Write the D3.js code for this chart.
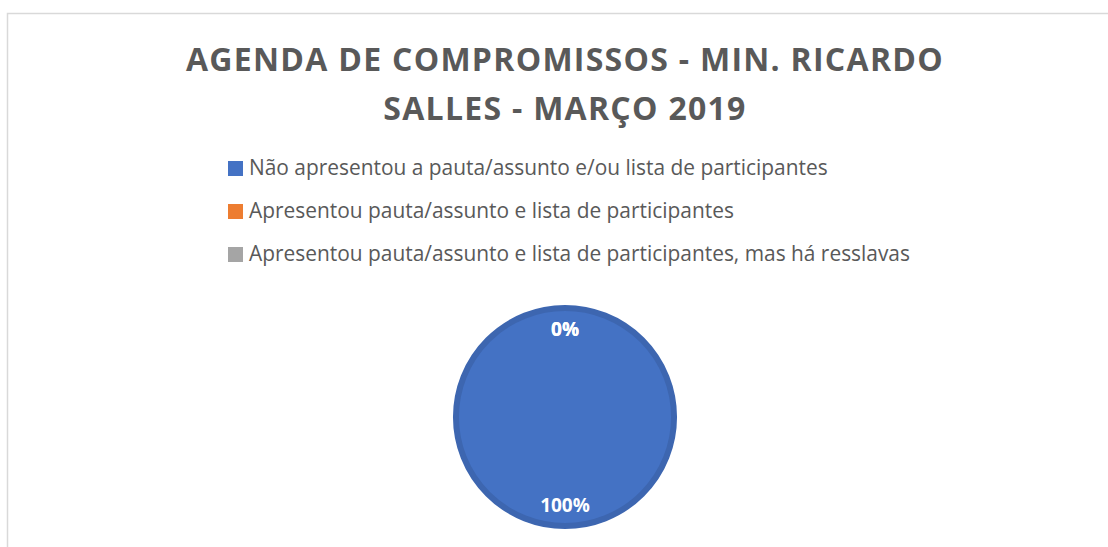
<!DOCTYPE html>
<html>
<head>
<meta charset="utf-8">
<script src="https://cdn.jsdelivr.net/npm/d3@7"></script>
<style>
html,body{margin:0;padding:0;background:#fff;}
svg{display:block;}
</style>
</head>
<body>
<svg id="chart" width="1108" height="547"></svg>
<script>
const titleLines = ["AGENDA DE COMPROMISSOS - MIN. RICARDO", "SALLES - MARÇO 2019"];
const categories = [
  "Não apresentou a pauta/assunto e/ou lista de participantes",
  "Apresentou pauta/assunto e lista de participantes",
  "Apresentou pauta/assunto e lista de participantes, mas há resslavas"
];
const values = [100, 0, 0];
const labels = ["100%", "0%", "0%"];
const colors = ["#4472C4", "#ED7D31", "#A5A5A5"];

const svg = d3.select("#chart");
const font = "'Open Sans', 'Liberation Sans', sans-serif";

// outer chart border
svg.append("rect")
  .attr("x", 7.5).attr("y", 13.5)
  .attr("width", 1200).attr("height", 600)
  .attr("fill", "#fff").attr("stroke", "#d9d9d9").attr("stroke-width", 1.5);

function fitText(sel, target) {
  const w = sel.node().getComputedTextLength();
  const fs = parseFloat(sel.attr("font-size"));
  sel.attr("font-size", fs * target / w);
}

// title: fixed size, letter-spacing tuned to width
const titleBase = [71, 120];
const tfs = 32;
let ls = 0;
titleLines.forEach((t, i) => {
  const el = svg.append("text")
    .attr("x", 565).attr("y", titleBase[i])
    .attr("text-anchor", "middle")
    .attr("font-family", font).attr("font-weight", "bold")
    .attr("font-size", tfs).attr("fill", "#595959")
    .text(t);
  if (i === 0) {
    const w = el.node().getComputedTextLength();
    ls = (758 - w) / (t.length);
  }
  el.attr("letter-spacing", ls);
});

// legend
const ly = d3.scalePoint().domain(categories).range([175, 261]);
const lg = svg.append("g");
let lfs = 18;
categories.forEach((c, i) => {
  const y = ly(c);
  lg.append("rect").attr("x", 228).attr("y", y - 14).attr("width", 15).attr("height", 15)
    .attr("fill", colors[i]);
  const el = lg.append("text").attr("x", 249).attr("y", y)
    .attr("font-family", font).attr("font-size", lfs).attr("fill", "#595959")
    .text(c);
  if (i === 0) { fitText(el, 579); lfs = parseFloat(el.attr("font-size")); }
  else el.attr("font-size", lfs);
});

// pie
const cx = 565, cy = 417, R = 112;
const pie = d3.pie().sort(null).value(d => d)(values);
const arc = d3.arc().innerRadius(0).outerRadius(R - 3);
const g = svg.append("g").attr("transform", `translate(${cx},${cy})`);
g.selectAll("path").data(pie).join("path")
  .attr("d", arc)
  .attr("fill", (d, i) => colors[i])
  .attr("stroke", (d, i) => d3.color(colors[i]).darker(0.3))
  .attr("stroke-width", (d) => d.value > 0 ? 6 : 0);

const labelArc = d3.arc().innerRadius(88).outerRadius(88);
g.selectAll("text.lbl").data(pie).join("text")
  .attr("class", "lbl")
  .attr("transform", d => { const c = labelArc.centroid(d); return `translate(${c[0]},${c[1]})`; })
  .attr("text-anchor", "middle").attr("dy", "0.36em")
  .attr("font-family", font).attr("font-weight", "bold").attr("font-size", 19)
  .attr("fill", "#fff")
  .text((d, i) => labels[i]);
</script>
</body>
</html>
